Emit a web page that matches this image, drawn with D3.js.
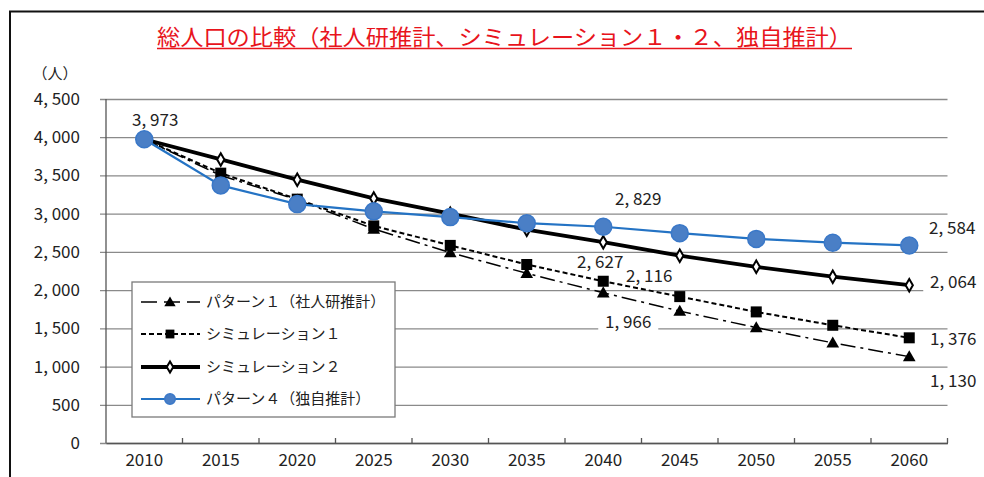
<!DOCTYPE html>
<html>
   <head>
      <meta charset="utf-8">
      <script src="https://d3js.org/d3.v7.min.js"></script>
   </head>

   <style>
      body { margin: 0; background: #fff; }
      text { font-family: 'Noto Sans CJK JP', 'Noto Sans', sans-serif; }
   </style>
   <body>
      <script>
         let [width, height] = [984, 477];
         let plot = { left: 106, right: 947.5, top: 99, bottom: 443 };

         let years = ['2010', '2015', '2020', '2025', '2030', '2035', '2040', '2045', '2050', '2055', '2060'];
         let yTicks = [0, 500, 1000, 1500, 2000, 2500, 3000, 3500, 4000, 4500];
         let seriesNames = ['パターン１（社人研推計）', 'シミュレーション１', 'シミュレーション２', 'パターン４（独自推計）'];
         let pattern1 = [3973, 3500, 3180, 2800, 2490, 2220, 1966, 1725, 1510, 1310, 1130];
         let sim1 = [3973, 3530, 3190, 2840, 2585, 2335, 2116, 1915, 1715, 1540, 1376];
         let sim2 = [3973, 3710, 3445, 3200, 3000, 2790, 2627, 2450, 2305, 2175, 2064];
         let pattern4 = [3973, 3370, 3125, 3030, 2955, 2875, 2829, 2745, 2670, 2620, 2584];
         let title = '総人口の比較（社人研推計、シミュレーション１・２、独自推計）';

         let svg = d3.select('body').append('svg').attr('width', width).attr('height', height);

         // outer frame
         svg.append('rect')
            .attr('x', 10).attr('y', 11.5).attr('width', 1000).attr('height', 500)
            .attr('fill', 'none').attr('stroke', '#111').attr('stroke-width', 2);

         // title with underline
         svg.append('text')
            .attr('x', 157).attr('y', 45)
            .attr('textLength', 695).attr('lengthAdjust', 'spacingAndGlyphs')
            .style('font-size', '22px').attr('fill', '#e8141c')
            .text(title);
         svg.append('line')
            .attr('x1', 157).attr('x2', 852).attr('y1', 48.5).attr('y2', 48.5)
            .attr('stroke', '#e8141c').attr('stroke-width', 1.5);

         svg.append('text').attr('x', 55).attr('y', 79).style('text-anchor', 'middle')
            .style('font-size', '15px').attr('fill', '#222').text('（人）');

         let x = d3.scaleBand().domain(years).range([plot.left, plot.right]).padding(0);
         let y = d3.scaleLinear().domain([0, 4500]).range([plot.bottom, plot.top]);
         let cx = (d, i) => x(years[i]) + x.bandwidth() / 2;
         let fmt = (v) => d3.format(',')(v).replace(',', ', ');

         // y axis + gridlines
         let yAxis = svg.append('g').attr('transform', `translate(${plot.left},0)`)
            .call(d3.axisLeft(y).tickValues(yTicks).tickSize(-(plot.right - plot.left)).tickPadding(26).tickFormat(fmt));
         yAxis.select('.domain').remove();
         yAxis.selectAll('.tick line').attr('x1', -6).attr('stroke', '#8a8a8a').attr('stroke-width', 1.3);
         yAxis.selectAll('.tick text').style('font-size', '17px').style('font-family', "'Noto Sans CJK JP', sans-serif").attr('fill', '#222');
         svg.append('line').attr('x1', plot.left).attr('x2', plot.left).attr('y1', plot.top).attr('y2', plot.bottom)
            .attr('stroke', '#555').attr('stroke-width', 1.3);

         // x axis
         let xAxis = svg.append('g').attr('transform', `translate(0,${plot.bottom})`)
            .call(d3.axisBottom(x).tickSize(0).tickPadding(11));
         xAxis.select('.domain').attr('stroke', '#555').attr('stroke-width', 1.3);
         xAxis.selectAll('.tick text').style('font-size', '17px').style('font-family', "'Noto Sans CJK JP', sans-serif").attr('fill', '#222');
         xAxis.selectAll('.bnd').data(years.slice(1).concat(['end'])).enter().append('line')
            .attr('x1', (d) => d === 'end' ? plot.right : x(d))
            .attr('x2', (d) => d === 'end' ? plot.right : x(d))
            .attr('y1', 0).attr('y2', -5).attr('stroke', '#555').attr('stroke-width', 1.3);

         let styles = [
            { data: pattern1, color: '#000', width: 1.5, dash: '15,5,3,5', marker: 'tri' },
            { data: sim1, color: '#000', width: 2, dash: '5,3', marker: 'sq' },
            { data: sim2, color: '#000', width: 3.8, dash: null, marker: 'dia' },
            { data: pattern4, color: '#2473c4', width: 2.2, dash: null, marker: 'circ' }
         ];

         let drawMarker = (g, type, px, py, scale) => {
            if (type === 'tri') {
               g.append('path').attr('d', d3.symbol(d3.symbolTriangle, 70 * scale)())
                  .attr('transform', `translate(${px},${py + 1})`).attr('fill', '#000');
            } else if (type === 'sq') {
               g.append('rect').attr('x', px - 5.5 * scale).attr('y', py - 5.5 * scale)
                  .attr('width', 11 * scale).attr('height', 11 * scale).attr('fill', '#000');
            } else if (type === 'dia') {
               g.append('path').attr('d', d3.symbol(d3.symbolDiamond, 45 * scale)())
                  .attr('transform', `translate(${px},${py})`).attr('fill', '#fff').attr('stroke', '#000').attr('stroke-width', 2);
            } else {
               g.append('circle').attr('cx', px).attr('cy', py).attr('r', 8.5 * scale)
                  .attr('fill', '#4a7fc6').attr('stroke', '#3a78c8').attr('stroke-width', 1.5);
            }
         };

         let line = d3.line().x(cx).y((d) => y(d));
         styles.forEach((s) => {
            let g = svg.append('g');
            g.append('path').datum(s.data).attr('d', line)
               .attr('fill', 'none').attr('stroke', s.color).attr('stroke-width', s.width)
               .attr('stroke-dasharray', s.dash);
            s.data.forEach((v, i) => drawMarker(g, s.marker, cx(v, i), y(v), 1));
         });

         // data labels
         let labels = [
            { s: 3, i: 0, dx: 11, dy: -19, bg: false },
            { s: 3, i: 6, dx: 35, dy: -28, bg: false },
            { s: 2, i: 6, dx: -3, dy: 20, bg: false },
            { s: 1, i: 6, dx: 46, dy: -5, bg: false },
            { s: 0, i: 6, dx: 25, dy: 29, bg: true },
            { s: 3, i: 10, dx: 43, dy: -17, bg: false },
            { s: 2, i: 10, dx: 44, dy: -3, bg: true },
            { s: 1, i: 10, dx: 44, dy: 1, bg: false },
            { s: 0, i: 10, dx: 44, dy: 24, bg: false }
         ];
         labels.forEach((l) => {
            let v = styles[l.s].data[l.i];
            let lx = cx(v, l.i) + l.dx, ly = y(v) + l.dy;
            if (l.bg) {
               svg.append('rect').attr('x', lx - 30).attr('y', ly - 10).attr('width', 60).attr('height', 20).attr('fill', '#fff');
            }
            svg.append('text').attr('x', lx).attr('y', ly).attr('dy', '0.35em')
               .style('text-anchor', 'middle').style('font-size', '17px').attr('fill', '#222')
               .text(fmt(v));
         });

         // legend
         let legend = svg.append('g');
         legend.append('rect').attr('x', 132).attr('y', 282).attr('width', 263).attr('height', 135)
            .attr('fill', '#fff').attr('stroke', '#7a7a7a').attr('stroke-width', 1.3);
         let rowY = [302, 334, 367, 399];
         styles.forEach((s, i) => {
            legend.append('line').attr('x1', 141).attr('x2', 200).attr('y1', rowY[i]).attr('y2', rowY[i])
               .attr('stroke', s.color).attr('stroke-width', s.width)
               .attr('stroke-dasharray', s.marker === 'tri' ? '16,7' : s.dash);
            drawMarker(legend, s.marker, 170, rowY[i], s.marker === 'circ' ? 0.62 : 0.8);
            legend.append('text').attr('x', 206).attr('y', rowY[i]).attr('dy', '0.35em')
               .style('font-size', '15px').attr('fill', '#222').text(seriesNames[i]);
         });
      </script>
   </body>
</html>
